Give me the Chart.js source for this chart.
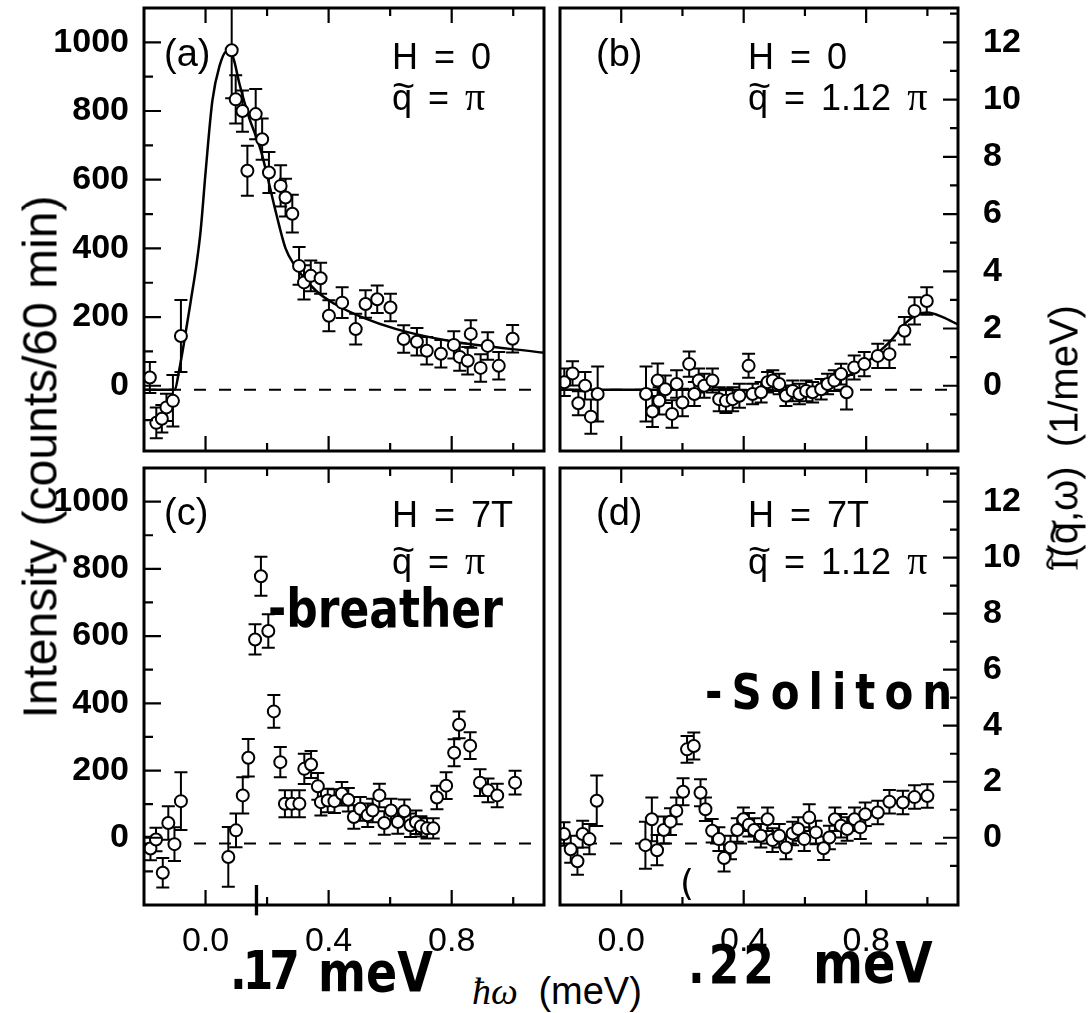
<!DOCTYPE html>
<html lang="en">
<head>
  <meta charset="UTF-8" />
  <title>Intensity vs energy – panels (a) to (d)</title>
  <script src="https://cdn.jsdelivr.net/npm/chart.js"></script>
  <style>
    body {
      margin: 0;
      width: 1088px; height: 1013px;
      position: relative; overflow: hidden;
      background: #fff; color: #000;
      font-family: "Liberation Sans", Arial, Helvetica, sans-serif;
    }
    canvas { position: absolute; }
    .t {
      position: absolute;
      font-size: 36px; line-height: 36px;
      white-space: pre; word-spacing: 6px;
    }
    .q { position: relative; display: inline-block; }
    .q .tl { position: absolute; left: 0; width: 100%; text-align: center; top: -13px; font-size: 1.1em; }
    .pi { font-family: "Liberation Serif", "DejaVu Serif", serif; font-size: 40px; }
    .hand {
      position: absolute;
      font-family: "DejaVu Sans", sans-serif; font-weight: bold;
      white-space: pre; transform-origin: left bottom;
    }
    .rot {
      position: absolute; white-space: nowrap;
      transform: translate(-50%, -50%) rotate(-90deg);
    }
  </style>
</head>
<body>
  <canvas id="pa" width="552" height="460" style="left:0;top:0"></canvas>
  <canvas id="pb" width="536" height="460" style="left:552px;top:0"></canvas>
  <canvas id="pc" width="552" height="510" style="left:0;top:460px"></canvas>
  <canvas id="pd" width="536" height="510" style="left:552px;top:460px"></canvas>

  <!-- panel labels -->
  <div class="t" style="left:164px;top:35px;font-size:38px">(a)</div>
  <div class="t" style="left:392px;top:39px">H = 0</div>
  <div class="t" style="left:392px;top:79px"><span class="q">q<span class="tl">~</span></span> = <span class="pi">π</span></div>

  <div class="t" style="left:596px;top:35px;font-size:38px">(b)</div>
  <div class="t" style="left:748px;top:39px">H = 0</div>
  <div class="t" style="left:748px;top:79px"><span class="q">q<span class="tl">~</span></span> = 1.12 <span class="pi">π</span></div>

  <div class="t" style="left:164px;top:494px;font-size:38px">(c)</div>
  <div class="t" style="left:392px;top:497px">H = 7T</div>
  <div class="t" style="left:392px;top:543px"><span class="q">q<span class="tl">~</span></span> = <span class="pi">π</span></div>

  <div class="t" style="left:596px;top:494px;font-size:38px">(d)</div>
  <div class="t" style="left:748px;top:497px">H = 7T</div>
  <div class="t" style="left:748px;top:543px"><span class="q">q<span class="tl">~</span></span> = 1.12 <span class="pi">π</span></div>

  <!-- axis titles -->
  <div class="rot" style="left:40px;top:457px;font-size:48px">Intensity (counts/60 min)</div>
  <div class="rot" style="left:1064px;top:438px;font-size:40px;word-spacing:8px"><span class="q" style="font-family:'Liberation Serif',serif">I<span class="tl" style="top:-16px">~</span></span>(<span class="q">q<span class="tl">~</span></span>,ω) (1/meV)</div>
  <div class="t" style="left:472px;top:972px;font-size:38px;line-height:38px;word-spacing:10px"><span style="font-family:'Liberation Serif',serif;font-style:italic">ħω</span> (meV)</div>

  <!-- handwritten notes -->
  <div class="hand" style="left:268px;top:588px;font-size:44px;transform:scaleY(1.2)">-breather</div>
  <div class="hand" style="left:705px;top:672px;font-size:42px;letter-spacing:9px;transform:scaleY(1.2)">-Soliton</div>
  <div class="hand" style="left:230px;top:950px;font-size:44px;letter-spacing:-4px;transform:scaleY(1.2)">.17</div>
  <div class="hand" style="left:318px;top:950px;font-size:46px;transform:scaleY(1.2)">meV</div>
  <div class="hand" style="left:688px;top:944px;font-size:44px;letter-spacing:4px;transform:scaleY(1.2)">.22</div>
  <div class="hand" style="left:813px;top:940px;font-size:48px;transform:scaleY(1.2)">meV</div>
  <div class="hand" style="left:680px;top:862px;font-size:36px;font-weight:normal">(</div>
  <div class="hand" style="left:251px;top:880px;font-size:30px">|</div>

  <script>
    // axes
    const X_MIN = -0.2, X_MAX = 1.1;
    const Y_MAX = 1100;
    const Y_MIN_TOP = -190, Y_MIN_BOTTOM = -200;
    const X_TICK_LABELS = [0.0, 0.4, 0.8];
    const X_MINOR_TICKS = [0.2, 0.6, 1.0];
    const Y_TICK_LABELS = [0, 200, 400, 600, 800, 1000];
    const Y_MINOR_TICKS = [-100, 100, 300, 500, 700, 900];
    const R_TICK_LABELS = [0, 2, 4, 6, 8, 10, 12];      // right scale, 1/meV
    const R_MINOR_TICKS = [-1, 1, 3, 5, 7, 9, 11, 13];
    const R_PER_COUNT = 0.012;                          // 1/meV per count
    const BASE_TOP = -12, BASE_BOTTOM = -17;            // dashed zero lines

    // (a) H = 0, q = pi
    const A_X = [-0.181, -0.160, -0.142, -0.127, -0.106, -0.080, 0.085, 0.098, 0.120, 0.136, 0.163, 0.184, 0.206, 0.244, 0.260, 0.282, 0.304, 0.320, 0.342, 0.374, 0.401, 0.444, 0.488, 0.520, 0.558, 0.601, 0.644, 0.687, 0.719, 0.765, 0.807, 0.826, 0.852, 0.862, 0.894, 0.917, 0.953, 0.998];
    const A_Y = [24, -108, -96, -63, -44, 145, 977, 834, 800, 626, 791, 718, 621, 582, 548, 501, 349, 301, 320, 313, 204, 242, 165, 238, 252, 228, 136, 128, 102, 93, 119, 84, 73, 151, 52, 116, 58, 137];
    const A_ERR = [45, 45, 40, 40, 75, 105, 140, 70, 60, 73, 73, 60, 60, 60, 55, 55, 55, 50, 45, 45, 45, 45, 45, 40, 40, 40, 40, 40, 40, 40, 40, 40, 40, 40, 40, 40, 40, 40];
    const A_FIT_X = [-0.2, -0.1, -0.086, -0.07, -0.048, -0.03, -0.016, 0.0, 0.022, 0.045, 0.07, 0.09, 0.11, 0.14, 0.18, 0.23, 0.26, 0.29, 0.36, 0.42, 0.51, 0.62, 0.79, 1.1];
    const A_FIT_Y = [-12, -12, 44, 125, 247, 350, 451, 620, 829, 930, 975, 955, 880, 785, 684, 500, 400, 350, 276, 238, 199, 165, 131, 96];

    // (b) H = 0, q = 1.12 pi
    const B_X = [-0.186, -0.159, -0.140, -0.118, -0.099, -0.077, 0.081, 0.102, 0.119, 0.124, 0.144, 0.166, 0.181, 0.200, 0.222, 0.239, 0.253, 0.271, 0.298, 0.320, 0.342, 0.364, 0.386, 0.416, 0.429, 0.457, 0.478, 0.495, 0.516, 0.538, 0.560, 0.582, 0.604, 0.625, 0.653, 0.674, 0.696, 0.718, 0.736, 0.761, 0.794, 0.838, 0.876, 0.925, 0.958, 0.998];
    const B_Y = [10, 36, -51, 0, -90, -24, -24, -75, 15, -44, -10, -82, 5, -49, 63, -24, 15, 0, 15, -39, -44, -39, -29, 58, -24, -19, 10, 15, 5, -29, -15, -24, -15, -19, -10, 5, 15, 34, -19, 53, 63, 87, 92, 160, 218, 247];
    const B_ERR = [40, 35, 35, 40, 50, 80, 80, 45, 50, 40, 40, 40, 40, 40, 37, 35, 35, 35, 35, 35, 35, 35, 35, 35, 30, 30, 30, 30, 30, 30, 30, 30, 30, 30, 30, 30, 30, 30, 50, 35, 35, 35, 40, 40, 40, 40];
    const B_FIT_X = [-0.2, 0.3, 0.5, 0.6, 0.68, 0.77, 0.82, 0.88, 0.93, 0.97, 1.0, 1.05, 1.1];
    const B_FIT_Y = [-12, -12, -14, -10, 5, 44, 82, 131, 184, 208, 213, 200, 178];

    // (c) H = 7T, q = pi
    const C_X = [-0.179, -0.161, -0.139, -0.121, -0.101, -0.080, 0.074, 0.099, 0.121, 0.139, 0.161, 0.180, 0.204, 0.222, 0.243, 0.258, 0.280, 0.305, 0.321, 0.343, 0.365, 0.375, 0.397, 0.419, 0.443, 0.464, 0.482, 0.503, 0.527, 0.543, 0.565, 0.581, 0.603, 0.625, 0.646, 0.666, 0.684, 0.700, 0.720, 0.740, 0.752, 0.782, 0.808, 0.824, 0.860, 0.892, 0.918, 0.948, 1.006];
    const C_Y = [-32, -5, -104, 44, -19, 109, -57, 22, 126, 238, 590, 778, 615, 376, 225, 101, 101, 101, 205, 218, 153, 106, 111, 109, 131, 113, 62, 86, 67, 81, 126, 44, 81, 47, 79, 37, 46, 34, 28, 28, 120, 155, 253, 336, 274, 164, 141, 126, 164];
    const C_ERR = [35, 35, 44, 50, 50, 86, 89, 50, 54, 56, 45, 58, 50, 49, 45, 40, 40, 40, 45, 40, 40, 40, 35, 35, 35, 35, 35, 35, 35, 35, 35, 35, 35, 35, 35, 35, 35, 30, 30, 30, 35, 40, 40, 40, 40, 40, 35, 35, 35];

    // (d) H = 7T, q = 1.12 pi
    const D_X = [-0.187, -0.165, -0.143, -0.126, -0.104, -0.080, 0.079, 0.100, 0.117, 0.139, 0.161, 0.180, 0.202, 0.215, 0.237, 0.259, 0.275, 0.297, 0.319, 0.336, 0.357, 0.379, 0.399, 0.417, 0.434, 0.456, 0.478, 0.494, 0.516, 0.538, 0.560, 0.578, 0.598, 0.614, 0.636, 0.661, 0.680, 0.698, 0.718, 0.738, 0.762, 0.781, 0.797, 0.838, 0.876, 0.920, 0.958, 1.000];
    const D_Y = [11, -34, -70, 11, -4, 110, -22, 55, -37, 23, 48, 80, 137, 263, 273, 134, 85, 21, -4, -60, -29, 23, 55, 39, 23, 6, 55, -7, 6, -29, 13, 26, -4, 60, 16, -31, 1, 55, 36, 26, 55, 31, 70, 75, 107, 105, 121, 124];
    const D_ERR = [35, 40, 40, 40, 45, 75, 70, 65, 45, 40, 40, 40, 40, 40, 40, 40, 35, 35, 35, 40, 35, 35, 35, 35, 35, 35, 35, 35, 35, 35, 35, 35, 35, 40, 35, 35, 35, 35, 35, 35, 35, 35, 35, 35, 35, 35, 35, 35];

    const FONT = { family: '"Liberation Sans", Arial, Helvetica, sans-serif', size: 34 };
    const FONT_Y = { family: '"Liberation Sans", Arial, Helvetica, sans-serif', size: 34, weight: 'bold' };
    Chart.defaults.color = '#000';

    const pts = (xs, ys) => xs.map((x, i) => ({ x: x, y: ys[i] }));

    // frame with inward ticks on all sides
    const framePlugin = {
      id: 'frame',
      afterDraw(chart, args, opts) {
        const { ctx, chartArea: a } = chart;
        const x = chart.scales.x, y = chart.scales.y;
        const right = opts.side === 'right';
        ctx.save();
        ctx.strokeStyle = '#000';
        ctx.lineWidth = 2.2;
        ctx.beginPath();
        const xt = (list, len) => list.forEach(v => {
          const px = x.getPixelForValue(v);
          ctx.moveTo(px, a.bottom); ctx.lineTo(px, a.bottom - len);
          ctx.moveTo(px, a.top); ctx.lineTo(px, a.top + len);
        });
        const yt = (list, len, k) => list.forEach(v => {
          const py = y.getPixelForValue(v / k);
          if (py < a.top + 2 || py > a.bottom - 2) return;
          if (right) { ctx.moveTo(a.right, py); ctx.lineTo(a.right - len, py); }
          else { ctx.moveTo(a.left, py); ctx.lineTo(a.left + len, py); }
        });
        xt(X_TICK_LABELS, 15);
        xt(X_MINOR_TICKS, 8);
        if (right) {
          yt(R_TICK_LABELS, 15, R_PER_COUNT);
          yt(R_MINOR_TICKS, 8, R_PER_COUNT);
        } else {
          yt(Y_TICK_LABELS, 17, 1);
          yt(Y_MINOR_TICKS, 9, 1);
        }
        ctx.stroke();
        ctx.lineWidth = 3;
        ctx.strokeRect(a.left, a.top, a.right - a.left, a.bottom - a.top);
        ctx.restore();
      }
    };

    // vertical error bars, drawn just before the circles
    const errorBarPlugin = {
      id: 'errorBars',
      beforeDatasetDraw(chart, args) {
        const ds = chart.data.datasets[args.index];
        if (!ds.err) return;
        const { ctx, chartArea: a } = chart;
        const y = chart.scales.y;
        ctx.save();
        ctx.beginPath();
        ctx.rect(a.left, a.top, a.right - a.left, a.bottom - a.top);
        ctx.clip();
        ctx.strokeStyle = '#000';
        ctx.lineWidth = 2;
        ctx.beginPath();
        args.meta.data.forEach((el, i) => {
          const v = ds.data[i], e = ds.err[i];
          const t = y.getPixelForValue(v.y + e), b = y.getPixelForValue(v.y - e);
          ctx.moveTo(el.x, t); ctx.lineTo(el.x, b);
          ctx.moveTo(el.x - 6.5, t); ctx.lineTo(el.x + 6.5, t);
          ctx.moveTo(el.x - 6.5, b); ctx.lineTo(el.x + 6.5, b);
        });
        ctx.stroke();
        ctx.restore();
      }
    };

    // fixed axis sizes, no extra label overhang padding
    const fixAxis = (s, w, h) => {
      if (w !== null) s.width = w;
      if (h !== null) s.height = h;
      s.paddingTop = 0; s.paddingBottom = 0;
      s.paddingLeft = 0; s.paddingRight = 0;
    };

    function makePanel(id, p) {
      const right = p.side === 'right';
      const yTicks = right ? R_TICK_LABELS.map(v => v / R_PER_COUNT) : Y_TICK_LABELS;
      const datasets = [{
        data: [{ x: X_MIN, y: p.base }, { x: X_MAX, y: p.base }],
        showLine: true, borderColor: '#000', borderWidth: 2,
        borderDash: [12, 13], pointRadius: 0, order: 2
      }];
      if (p.fitX) {
        datasets.push({
          data: pts(p.fitX, p.fitY), showLine: true,
          borderColor: '#000', borderWidth: 2.5, pointRadius: 0,
          cubicInterpolationMode: 'monotone', order: 1
        });
      }
      datasets.push({
        data: pts(p.xs, p.ys), err: p.err,
        pointRadius: 6, pointHoverRadius: 6,
        pointBackgroundColor: '#fff', pointBorderColor: '#000', pointBorderWidth: 2,
        order: 0
      });

      new Chart(document.getElementById(id), {
        type: 'scatter',
        data: { datasets },
        options: {
          responsive: false,
          animation: false,
          events: [],
          layout: { padding: p.pad },
          plugins: { legend: { display: false }, tooltip: { enabled: false }, frame: { side: p.side } },
          scales: {
            x: {
              type: 'linear', min: X_MIN, max: X_MAX,
              grid: { display: false }, border: { display: false },
              ticks: { display: p.xLabels, font: FONT, color: '#000', padding: 8, autoSkip: false, maxRotation: 0,
                       callback: v => Number(v).toFixed(1) },
              afterBuildTicks: s => { s.ticks = X_TICK_LABELS.map(v => ({ value: v })); },
              afterFit: s => fixAxis(s, null, p.xLabels ? 55 : 0)
            },
            y: {
              type: 'linear', position: p.side, min: p.yMin, max: Y_MAX,
              grid: { display: false }, border: { display: false },
              ticks: { font: FONT_Y, color: '#000', padding: right ? 17 : 7, autoSkip: false,
                       callback: v => right ? String(Math.round(v * R_PER_COUNT)) : String(v) },
              afterBuildTicks: s => { s.ticks = yTicks.map(v => ({ value: v })); },
              afterFit: s => fixAxis(s, p.axisW, null)
            }
          }
        },
        plugins: [framePlugin, errorBarPlugin]
      });
    }

    makePanel('pa', { side: 'left', xLabels: false, yMin: Y_MIN_TOP, base: BASE_TOP, axisW: 144,
      pad: { left: 0, top: 7, right: 7, bottom: 9 },
      xs: A_X, ys: A_Y, err: A_ERR, fitX: A_FIT_X, fitY: A_FIT_Y });
    makePanel('pb', { side: 'right', xLabels: false, yMin: Y_MIN_TOP, base: BASE_TOP, axisW: 130,
      pad: { left: 7, top: 7, right: 0, bottom: 9 },
      xs: B_X, ys: B_Y, err: B_ERR, fitX: B_FIT_X, fitY: B_FIT_Y });
    makePanel('pc', { side: 'left', xLabels: true, yMin: Y_MIN_BOTTOM, base: BASE_BOTTOM, axisW: 144,
      pad: { left: 0, top: 6, right: 7, bottom: 10 },
      xs: C_X, ys: C_Y, err: C_ERR });
    makePanel('pd', { side: 'right', xLabels: true, yMin: Y_MIN_BOTTOM, base: BASE_BOTTOM, axisW: 130,
      pad: { left: 7, top: 6, right: 0, bottom: 10 },
      xs: D_X, ys: D_Y, err: D_ERR });
  </script>
</body>
</html>
